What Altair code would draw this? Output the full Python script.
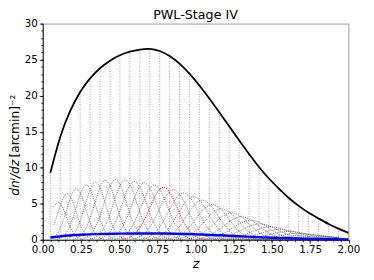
import altair as alt
import pandas as pd

# bin edges (equal width) and total n(z) read at the edges
z_edges = [0.05, 0.115, 0.18, 0.245, 0.31, 0.375, 0.44, 0.505, 0.57, 0.635, 0.70,
           0.765, 0.83, 0.895, 0.96, 1.025, 1.09, 1.155, 1.22, 1.285, 1.35, 1.415,
           1.48, 1.545, 1.61, 1.675, 1.74, 1.805, 1.87, 1.935, 2.0]
n_total = [9.3, 14.3, 17.9, 20.5, 22.4, 23.8, 24.85, 25.6, 26.1, 26.4, 26.5,
           26.2, 25.5, 24.45, 23.05, 21.4, 19.6, 17.7, 15.75, 13.8, 11.9, 10.1,
           8.5, 7.1, 5.8, 4.7, 3.75, 2.95, 2.2, 1.55, 0.95]

# blue curve
blue_z = [0.05, 0.15, 0.25, 0.35, 0.5, 0.65, 0.8, 0.95, 1.1, 1.25, 1.4, 1.55, 1.7, 1.85, 2.0]
blue_v = [0.31, 0.55, 0.69, 0.78, 0.85, 0.88, 0.86, 0.79, 0.67, 0.53, 0.37, 0.24, 0.15, 0.08, 0.04]

# per-bin curves: peak position, peak height, width
bin_peak_z = [0.10, 0.16, 0.22, 0.285, 0.345, 0.41, 0.475, 0.54, 0.60, 0.665,
              0.73, 0.79, 0.855, 0.92, 0.985, 1.045, 1.11, 1.17, 1.235, 1.30,
              1.36, 1.42, 1.49, 1.55, 1.61, 1.68, 1.74, 1.80, 1.87, 1.93]
bin_peak_h = [5.2, 6.4, 7.1, 7.6, 8.0, 8.25, 8.35, 8.3, 8.1, 7.9,
              7.6, 7.3, 6.95, 6.5, 6.0, 5.5, 4.9, 4.3, 3.75, 3.2,
              2.7, 2.2, 1.8, 1.45, 1.15, 0.9, 0.7, 0.5, 0.38, 0.28]
bin_width = [0.055, 0.058, 0.061, 0.064, 0.067, 0.070, 0.074, 0.077, 0.080, 0.083,
             0.086, 0.090, 0.093, 0.096, 0.099, 0.102, 0.105, 0.108, 0.112, 0.115,
             0.118, 0.121, 0.124, 0.128, 0.131, 0.134, 0.137, 0.140, 0.143, 0.146]
red_bin = 11
# shared bell profile (offset in widths, relative height)
profile_u = [-3.0, -2.5, -2.0, -1.5, -1.0, -0.5, 0.0, 0.5, 1.0, 1.5, 2.0, 2.5, 3.0]
profile_v = [0.011, 0.044, 0.135, 0.325, 0.607, 0.882, 1.0, 0.882, 0.607, 0.325, 0.135, 0.044, 0.011]

x_major = [0.0, 0.25, 0.5, 0.75, 1.0, 1.25, 1.5, 1.75, 2.0]
x_minor = [round(i * 0.05, 2) for i in range(41)]
y_major = [0, 5, 10, 15, 20, 25, 30]
y_minor = list(range(31))

rows = []
for b, (pz, ph, w) in enumerate(zip(bin_peak_z, bin_peak_h, bin_width)):
    for u, v in zip(profile_u, profile_v):
        z = pz + u * w
        if 0.05 <= z <= 2.0:
            rows.append({"bin": b, "z": z, "v": ph * v, "red": b == red_bin})
bins_df = pd.DataFrame(rows)
tot_df = pd.DataFrame({"z": z_edges, "n": n_total, "base": [0.0] * len(z_edges)})
blue_df = pd.DataFrame({"z": blue_z, "v": blue_v})

xs = alt.Scale(domain=[0, 2], nice=False, zero=False)
ys = alt.Scale(domain=[0, 30], nice=False)

ax_x = alt.Axis(values=x_major, format=".2f", title="z", titleFontStyle="italic",
                titleFontSize=13, titleFontWeight="normal", titlePadding=2, grid=False,
                orient="bottom", labelFlush=False)
ax_y = alt.Axis(values=y_major, format="d", title=None, grid=False, orient="left")

vlines = alt.Chart(tot_df).mark_rule(color="#999999", strokeWidth=0.9, strokeDash=[1, 1.6]).encode(
    x=alt.X("z:Q", scale=xs, axis=ax_x),
    y=alt.Y("base:Q", scale=ys, axis=ax_y),
    y2="n:Q",
)

bins_black = alt.Chart(bins_df).transform_filter("!datum.red").mark_line(
    color="#333333", strokeWidth=0.7, strokeDash=[1, 1.2], interpolate="monotone"
).encode(x=alt.X("z:Q", axis=None), y=alt.Y("v:Q", axis=None), detail="bin:N", order="z:Q")

bins_red = alt.Chart(bins_df).transform_filter("datum.red").mark_line(
    color="red", strokeWidth=1.0, strokeDash=[1.2, 1.2], interpolate="monotone"
).encode(x=alt.X("z:Q", axis=None), y=alt.Y("v:Q", axis=None), order="z:Q")

total = alt.Chart(tot_df).mark_line(color="black", strokeWidth=1.8, interpolate="natural").encode(
    x=alt.X("z:Q", axis=None), y=alt.Y("n:Q", axis=None))

blue = alt.Chart(blue_df).mark_line(color="blue", strokeWidth=2.5, interpolate="natural").encode(
    x=alt.X("z:Q", axis=alt.Axis(values=x_minor, labels=False, tickSize=2, domain=False,
                                 grid=False, title=None, orient="bottom")),
    y=alt.Y("v:Q", axis=alt.Axis(values=y_minor, labels=False, tickSize=2, domain=False,
                                 grid=False, title=None, orient="left")),
)

lab_df = pd.DataFrame({"a": [0]})
ytitle1 = alt.Chart(lab_df).mark_text(
    text="dnⁱ/dz", angle=270, align="left", baseline="middle", fontStyle="italic",
    fontSize=12.5, font="DejaVu Sans", color="black"
).encode(x=alt.value(-28.5), y=alt.value(176))
ytitle2 = alt.Chart(lab_df).mark_text(
    text="[arcmin]⁻²", angle=270, align="left", baseline="middle",
    fontSize=12.5, font="DejaVu Sans", color="black"
).encode(x=alt.value(-28.5), y=alt.value(137))
title = alt.Chart(lab_df).mark_text(
    text="PWL-Stage IV", align="center", baseline="alphabetic",
    fontSize=13, font="DejaVu Sans", color="black"
).encode(x=alt.value(156.25), y=alt.value(-5))

chart = alt.layer(vlines, bins_black, bins_red, total, blue, ytitle1, ytitle2, title).resolve_axis(
    x="independent", y="independent"
).properties(
    width=312.5, height=221,
    autosize=alt.AutoSizeParams(type="none"),
    padding={"left": 35.5, "top": 13, "right": 18, "bottom": 30},
).configure_view(stroke="#999999", strokeWidth=1).configure_axis(
    labelFont="DejaVu Sans", labelFontSize=10.5, labelColor="black",
    titleFont="DejaVu Sans", titleColor="black",
    tickColor="black", tickSize=3.5, tickWidth=0.8,
    domainColor="black", domainWidth=0.9, labelPadding=2,
)

chart.save("out.html", embed_options={"renderer": "svg", "actions": False})
